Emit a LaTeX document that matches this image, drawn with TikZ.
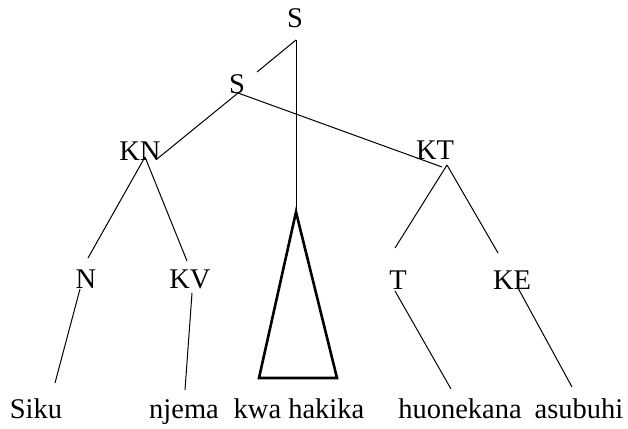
\documentclass[tikz,border=0pt]{standalone}
\usepackage{fontspec}
\setmainfont{Liberation Serif}
\usetikzlibrary{calc}

\begin{document}
\begin{tikzpicture}[x=1pt, y=-1pt,
        lbl/.style={anchor=base, inner sep=0pt, font=\fontsize{28.5}{34}\selectfont},
        branch/.style={line width=1pt},
        roof/.style={line width=2.6pt, line join=miter}]
        \useasboundingbox (0,0) rectangle (628,428);
        % category labels
        \node[lbl] (sTop) at (295, 28) {S};
        \node[lbl] (sLow) at (237, 93) {S};
        \node[lbl] (kn) at (140, 160) {KN};
        \node[lbl] (kt) at (435, 159) {KT};
        \node[lbl] (n) at (86, 288) {N};
        \node[lbl] (kv) at (190, 288) {KV};
        \node[lbl] (t) at (398, 289) {T};
        \node[lbl] (ke) at (512, 289) {KE};
        % words
        \node[lbl] (siku) at (36, 418) {Siku};
        \node[lbl] (njema) at (184, 418) {njema};
        \node[lbl] (kwa) at (299, 418) {kwa hakika};
        \node[lbl] (huo) at (460, 418) {huonekana};
        \node[lbl] (asu) at (579, 418) {asubuhi};
        % triangle over kwa hakika
        \coordinate (apex) at ([shift={(-3,-206)}]kwa.base);
        \coordinate (roofL) at ([shift={(-40,-40)}]kwa.base);
        \coordinate (roofR) at ([shift={(38,-40)}]kwa.base);
        \coordinate (sCut) at ([shift={(20,-21)}]sLow.base);
        \draw[roof] (apex) -- (roofL) -- (roofR) -- cycle;
        % branches
        \draw[branch] ([shift={(1,12)}]sTop.base) -- (apex);
        \draw[branch] ([shift={(1,12)}]sTop.base) -- (sCut);
        \draw[branch] ([shift={(1,0)}]sLow.base) -- ([shift={(17,-1)}]kn.base);
        \draw[branch] ([shift={(1,0)}]sLow.base) -- ([shift={(7,8)}]kt.base);
        \draw[branch] ([shift={(5,-3)}]kn.base) -- ([shift={(2,-30)}]n.base);
        \draw[branch] ([shift={(5,-3)}]kn.base) -- ([shift={(-3,-27)}]kv.base);
        \draw[branch] ([shift={(12,6)}]kt.base) -- ([shift={(-3,-41)}]t.base);
        \draw[branch] ([shift={(12,6)}]kt.base) -- ([shift={(-14,-36)}]ke.base);
        \draw[branch] ([shift={(-6,1)}]n.base) -- ([shift={(19,-35)}]siku.base);
        \draw[branch] ([shift={(2,5)}]kv.base) -- ([shift={(1,-28)}]njema.base);
        \draw[branch] ([shift={(-3,2)}]t.base) -- ([shift={(-9,-29)}]huo.base);
        \draw[branch] ([shift={(6,-1)}]ke.base) -- ([shift={(-7,-31)}]asu.base);
\end{tikzpicture}
\end{document}
